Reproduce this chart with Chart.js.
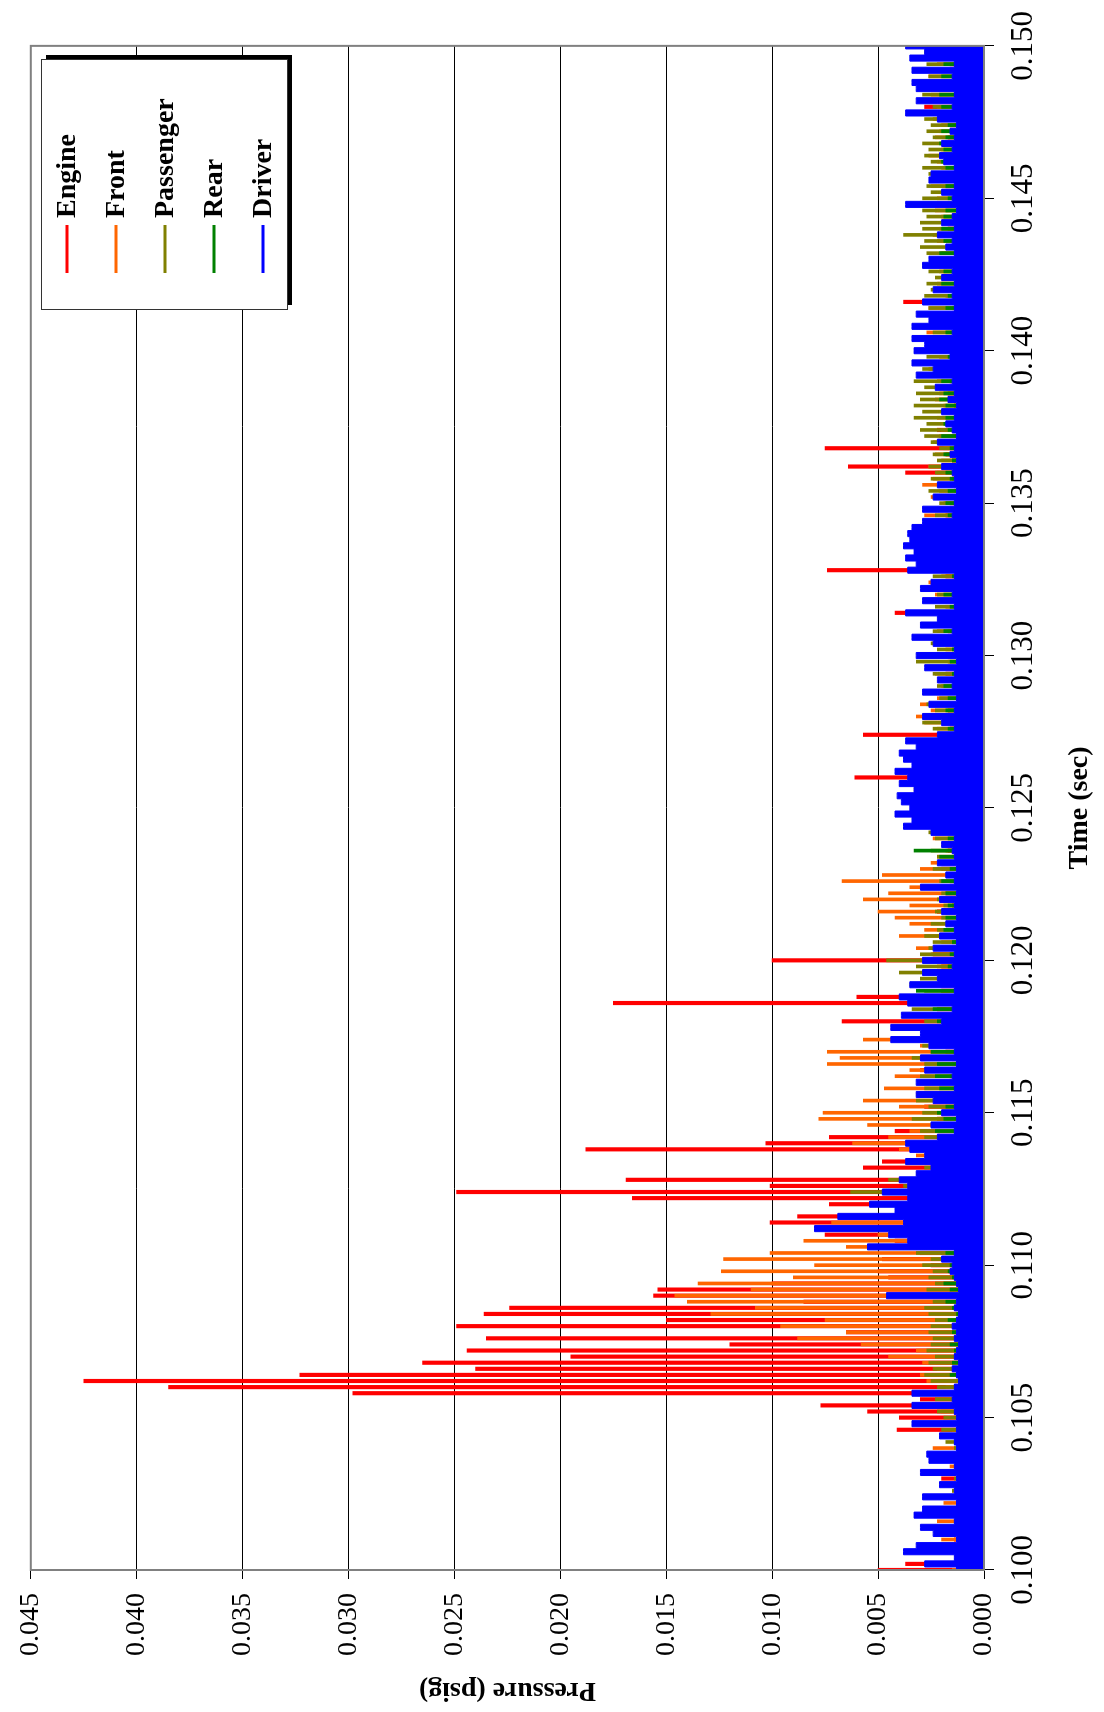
<!DOCTYPE html>
<html>
<head>
<meta charset="utf-8">
<script src="https://cdn.jsdelivr.net/npm/chart.js@4.4.1/dist/chart.umd.min.js"></script>
<style>
  html, body { margin: 0; padding: 0; background: #fff; overflow: hidden; }
  #wrap {
    position: absolute; left: 0; top: 0;
    width: 1712px; height: 1104px;
    transform-origin: 0 0;
    transform: translateY(1712px) rotate(-90deg);
  }
</style>
</head>
<body>
<div id="wrap"><canvas id="chart" width="1712" height="1104"></canvas></div>
<script>
// sample times (sec)
const times = [
  0.1000,0.1002,0.1004,0.1006,0.1008,0.1010,0.1012,0.1014,0.1016,0.1018,
  0.1020,0.1022,0.1024,0.1026,0.1028,0.1030,0.1032,0.1034,0.1036,0.1038,
  0.1040,0.1042,0.1044,0.1046,0.1048,0.1050,0.1052,0.1054,0.1056,0.1058,
  0.1060,0.1062,0.1064,0.1066,0.1068,0.1070,0.1072,0.1074,0.1076,0.1078,
  0.1080,0.1082,0.1084,0.1086,0.1088,0.1090,0.1092,0.1094,0.1096,0.1098,
  0.1100,0.1102,0.1104,0.1106,0.1108,0.1110,0.1112,0.1114,0.1116,0.1118,
  0.1120,0.1122,0.1124,0.1126,0.1128,0.1130,0.1132,0.1134,0.1136,0.1138,
  0.1140,0.1142,0.1144,0.1146,0.1148,0.1150,0.1152,0.1154,0.1156,0.1158,
  0.1160,0.1162,0.1164,0.1166,0.1168,0.1170,0.1172,0.1174,0.1176,0.1178,
  0.1180,0.1182,0.1184,0.1186,0.1188,0.1190,0.1192,0.1194,0.1196,0.1198,
  0.1200,0.1202,0.1204,0.1206,0.1208,0.1210,0.1212,0.1214,0.1216,0.1218,
  0.1220,0.1222,0.1224,0.1226,0.1228,0.1230,0.1232,0.1234,0.1236,0.1238,
  0.1240,0.1242,0.1244,0.1246,0.1248,0.1250,0.1252,0.1254,0.1256,0.1258,
  0.1260,0.1262,0.1264,0.1266,0.1268,0.1270,0.1272,0.1274,0.1276,0.1278,
  0.1280,0.1282,0.1284,0.1286,0.1288,0.1290,0.1292,0.1294,0.1296,0.1298,
  0.1300,0.1302,0.1304,0.1306,0.1308,0.1310,0.1312,0.1314,0.1316,0.1318,
  0.1320,0.1322,0.1324,0.1326,0.1328,0.1330,0.1332,0.1334,0.1336,0.1338,
  0.1340,0.1342,0.1344,0.1346,0.1348,0.1350,0.1352,0.1354,0.1356,0.1358,
  0.1360,0.1362,0.1364,0.1366,0.1368,0.1370,0.1372,0.1374,0.1376,0.1378,
  0.1380,0.1382,0.1384,0.1386,0.1388,0.1390,0.1392,0.1394,0.1396,0.1398,
  0.1400,0.1402,0.1404,0.1406,0.1408,0.1410,0.1412,0.1414,0.1416,0.1418,
  0.1420,0.1422,0.1424,0.1426,0.1428,0.1430,0.1432,0.1434,0.1436,0.1438,
  0.1440,0.1442,0.1444,0.1446,0.1448,0.1450,0.1452,0.1454,0.1456,0.1458,
  0.1460,0.1462,0.1464,0.1466,0.1468,0.1470,0.1472,0.1474,0.1476,0.1478,
  0.1480,0.1482,0.1484,0.1486,0.1488,0.1490,0.1492,0.1494,0.1496,0.1498,
  0.1500
];

// pressure (psig) per location
const engine = [
  0.0050,0.0037,0.0012,0.0037,0.0010,0.0014,0.0011,0.0009,0.0013,0.0010,
  0.0012,0.0009,0.0015,0.0011,0.0010,0.0020,0.0012,0.0010,0.0016,0.0011,
  0.0013,0.0011,0.0018,0.0041,0.0015,0.0040,0.0055,0.0077,0.0030,0.0298,
  0.0385,0.0425,0.0323,0.0240,0.0265,0.0195,0.0244,0.0120,0.0235,0.0065,
  0.0249,0.0150,0.0236,0.0224,0.0085,0.0156,0.0154,0.0100,0.0045,0.0050,
  0.0025,0.0048,0.0030,0.0022,0.0042,0.0075,0.0030,0.0101,0.0088,0.0037,
  0.0073,0.0166,0.0249,0.0101,0.0169,0.0025,0.0057,0.0048,0.0020,0.0188,
  0.0103,0.0073,0.0042,0.0018,0.0022,0.0015,0.0028,0.0016,0.0020,0.0014,
  0.0025,0.0016,0.0030,0.0015,0.0026,0.0018,0.0015,0.0034,0.0020,0.0016,
  0.0067,0.0018,0.0022,0.0175,0.0060,0.0020,0.0024,0.0015,0.0018,0.0020,
  0.0100,0.0024,0.0016,0.0015,0.0020,0.0014,0.0017,0.0013,0.0022,0.0015,
  0.0014,0.0018,0.0013,0.0016,0.0012,0.0020,0.0015,0.0013,0.0017,0.0014,
  0.0013,0.0016,0.0014,0.0018,0.0013,0.0015,0.0012,0.0016,0.0014,0.0015,
  0.0061,0.0014,0.0016,0.0013,0.0018,0.0015,0.0014,0.0057,0.0016,0.0013,
  0.0015,0.0017,0.0014,0.0013,0.0016,0.0015,0.0012,0.0018,0.0014,0.0013,
  0.0015,0.0014,0.0016,0.0013,0.0017,0.0015,0.0020,0.0042,0.0014,0.0016,
  0.0015,0.0013,0.0025,0.0018,0.0074,0.0016,0.0014,0.0030,0.0015,0.0013,
  0.0016,0.0014,0.0015,0.0018,0.0013,0.0016,0.0015,0.0014,0.0020,0.0015,
  0.0037,0.0064,0.0015,0.0018,0.0075,0.0014,0.0016,0.0022,0.0015,0.0013,
  0.0016,0.0014,0.0015,0.0017,0.0013,0.0016,0.0015,0.0014,0.0018,0.0015,
  0.0014,0.0016,0.0013,0.0015,0.0017,0.0014,0.0016,0.0015,0.0038,0.0014,
  0.0015,0.0013,0.0016,0.0014,0.0018,0.0015,0.0013,0.0016,0.0014,0.0015,
  0.0017,0.0014,0.0015,0.0013,0.0016,0.0014,0.0015,0.0018,0.0013,0.0016,
  0.0014,0.0015,0.0016,0.0013,0.0015,0.0017,0.0014,0.0016,0.0015,0.0013,
  0.0028,0.0015,0.0014,0.0016,0.0026,0.0015,0.0013,0.0016,0.0014,0.0015,
  0.0015
];
const front = [
  0.0015,0.0023,0.0012,0.0018,0.0010,0.0020,0.0013,0.0011,0.0022,0.0014,
  0.0012,0.0019,0.0010,0.0015,0.0021,0.0013,0.0011,0.0016,0.0012,0.0014,
  0.0024,0.0013,0.0018,0.0015,0.0026,0.0014,0.0020,0.0028,0.0016,0.0025,
  0.0018,0.0027,0.0030,0.0022,0.0029,0.0045,0.0032,0.0058,0.0088,0.0065,
  0.0096,0.0075,0.0129,0.0108,0.0140,0.0146,0.0110,0.0135,0.0090,0.0124,
  0.0080,0.0123,0.0101,0.0065,0.0085,0.0050,0.0080,0.0072,0.0035,0.0028,
  0.0036,0.0025,0.0030,0.0022,0.0038,0.0025,0.0020,0.0028,0.0032,0.0040,
  0.0062,0.0045,0.0035,0.0055,0.0078,0.0076,0.0040,0.0057,0.0032,0.0047,
  0.0030,0.0042,0.0035,0.0074,0.0068,0.0074,0.0030,0.0057,0.0025,0.0026,
  0.0020,0.0022,0.0018,0.0024,0.0016,0.0020,0.0025,0.0018,0.0028,0.0022,
  0.0019,0.0025,0.0032,0.0020,0.0040,0.0028,0.0035,0.0042,0.0050,0.0035,
  0.0057,0.0045,0.0035,0.0067,0.0048,0.0030,0.0025,0.0022,0.0018,0.0020,
  0.0024,0.0017,0.0022,0.0028,0.0020,0.0019,0.0025,0.0021,0.0033,0.0026,
  0.0020,0.0022,0.0018,0.0026,0.0029,0.0020,0.0024,0.0019,0.0022,0.0028,
  0.0032,0.0025,0.0030,0.0022,0.0028,0.0020,0.0018,0.0023,0.0020,0.0017,
  0.0020,0.0018,0.0024,0.0019,0.0022,0.0017,0.0020,0.0025,0.0018,0.0021,
  0.0023,0.0019,0.0026,0.0020,0.0024,0.0021,0.0018,0.0022,0.0020,0.0019,
  0.0026,0.0022,0.0020,0.0028,0.0023,0.0019,0.0025,0.0021,0.0029,0.0024,
  0.0022,0.0026,0.0020,0.0023,0.0019,0.0024,0.0021,0.0020,0.0018,0.0022,
  0.0020,0.0019,0.0023,0.0021,0.0018,0.0022,0.0020,0.0026,0.0024,0.0021,
  0.0023,0.0025,0.0020,0.0027,0.0024,0.0022,0.0019,0.0026,0.0020,0.0018,
  0.0020,0.0022,0.0017,0.0021,0.0019,0.0023,0.0020,0.0018,0.0022,0.0024,
  0.0021,0.0018,0.0020,0.0023,0.0019,0.0022,0.0020,0.0025,0.0021,0.0018,
  0.0020,0.0022,0.0026,0.0020,0.0019,0.0023,0.0021,0.0020,0.0024,0.0028,
  0.0022,0.0020,0.0025,0.0023,0.0020,0.0026,0.0028,0.0022,0.0030,0.0024,
  0.0020
];
const passenger = [
  0.0012,0.0018,0.0010,0.0015,0.0011,0.0013,0.0016,0.0010,0.0014,0.0012,
  0.0011,0.0013,0.0010,0.0015,0.0012,0.0014,0.0017,0.0011,0.0013,0.0015,
  0.0014,0.0018,0.0015,0.0020,0.0024,0.0019,0.0022,0.0025,0.0023,0.0026,
  0.0022,0.0025,0.0028,0.0024,0.0026,0.0023,0.0027,0.0025,0.0024,0.0026,
  0.0025,0.0023,0.0026,0.0028,0.0024,0.0025,0.0027,0.0023,0.0026,0.0024,
  0.0029,0.0025,0.0032,0.0028,0.0036,0.0030,0.0034,0.0026,0.0038,0.0031,
  0.0042,0.0035,0.0063,0.0038,0.0045,0.0032,0.0028,0.0035,0.0026,0.0030,
  0.0034,0.0028,0.0030,0.0025,0.0034,0.0029,0.0026,0.0032,0.0024,0.0028,
  0.0026,0.0030,0.0024,0.0028,0.0034,0.0025,0.0029,0.0023,0.0027,0.0025,
  0.0028,0.0030,0.0034,0.0026,0.0032,0.0028,0.0035,0.0030,0.0040,0.0032,
  0.0046,0.0030,0.0026,0.0024,0.0028,0.0022,0.0025,0.0020,0.0023,0.0019,
  0.0022,0.0020,0.0026,0.0021,0.0018,0.0024,0.0020,0.0022,0.0025,0.0019,
  0.0023,0.0026,0.0020,0.0024,0.0027,0.0021,0.0025,0.0022,0.0028,0.0020,
  0.0024,0.0021,0.0026,0.0023,0.0020,0.0025,0.0028,0.0022,0.0024,0.0029,
  0.0026,0.0023,0.0027,0.0021,0.0025,0.0022,0.0020,0.0024,0.0026,0.0032,
  0.0028,0.0022,0.0025,0.0020,0.0024,0.0026,0.0021,0.0028,0.0023,0.0025,
  0.0022,0.0026,0.0020,0.0024,0.0027,0.0021,0.0023,0.0025,0.0020,0.0024,
  0.0026,0.0022,0.0025,0.0023,0.0027,0.0021,0.0024,0.0026,0.0022,0.0025,
  0.0023,0.0026,0.0022,0.0024,0.0021,0.0025,0.0028,0.0030,0.0027,0.0033,
  0.0029,0.0033,0.0030,0.0032,0.0028,0.0033,0.0031,0.0029,0.0032,0.0027,
  0.0030,0.0026,0.0028,0.0024,0.0027,0.0025,0.0023,0.0026,0.0024,0.0028,
  0.0025,0.0027,0.0023,0.0026,0.0029,0.0024,0.0027,0.0030,0.0028,0.0038,
  0.0029,0.0030,0.0027,0.0029,0.0026,0.0029,0.0025,0.0027,0.0024,0.0026,
  0.0029,0.0025,0.0028,0.0026,0.0029,0.0024,0.0027,0.0025,0.0028,0.0026,
  0.0024,0.0027,0.0029,0.0025,0.0029,0.0026,0.0023,0.0027,0.0025,0.0028,
  0.0030
];
const rear = [
  0.0010,0.0012,0.0009,0.0011,0.0013,0.0010,0.0012,0.0011,0.0009,0.0012,
  0.0011,0.0010,0.0013,0.0012,0.0010,0.0011,0.0014,0.0012,0.0010,0.0011,
  0.0013,0.0011,0.0012,0.0010,0.0014,0.0012,0.0011,0.0013,0.0015,0.0012,
  0.0014,0.0012,0.0016,0.0013,0.0015,0.0012,0.0014,0.0016,0.0013,0.0015,
  0.0014,0.0017,0.0013,0.0015,0.0018,0.0014,0.0016,0.0019,0.0015,0.0017,
  0.0016,0.0020,0.0018,0.0022,0.0017,0.0021,0.0019,0.0024,0.0018,0.0022,
  0.0020,0.0023,0.0019,0.0025,0.0021,0.0018,0.0022,0.0020,0.0026,0.0019,
  0.0021,0.0018,0.0023,0.0020,0.0019,0.0022,0.0018,0.0020,0.0024,0.0021,
  0.0019,0.0023,0.0020,0.0022,0.0018,0.0025,0.0021,0.0019,0.0023,0.0020,
  0.0022,0.0019,0.0024,0.0021,0.0020,0.0032,0.0022,0.0018,0.0020,0.0017,
  0.0019,0.0016,0.0018,0.0015,0.0017,0.0019,0.0016,0.0018,0.0015,0.0017,
  0.0016,0.0018,0.0015,0.0020,0.0017,0.0016,0.0019,0.0021,0.0033,0.0018,
  0.0017,0.0019,0.0016,0.0018,0.0020,0.0017,0.0019,0.0016,0.0018,0.0017,
  0.0019,0.0016,0.0018,0.0017,0.0020,0.0016,0.0018,0.0015,0.0017,0.0019,
  0.0016,0.0018,0.0015,0.0017,0.0016,0.0019,0.0017,0.0015,0.0018,0.0016,
  0.0017,0.0015,0.0018,0.0016,0.0019,0.0017,0.0015,0.0018,0.0016,0.0017,
  0.0019,0.0016,0.0018,0.0015,0.0017,0.0019,0.0016,0.0018,0.0017,0.0015,
  0.0018,0.0016,0.0019,0.0017,0.0015,0.0018,0.0016,0.0017,0.0019,0.0016,
  0.0018,0.0017,0.0015,0.0019,0.0016,0.0018,0.0020,0.0017,0.0019,0.0018,
  0.0020,0.0018,0.0021,0.0019,0.0017,0.0020,0.0018,0.0022,0.0019,0.0017,
  0.0019,0.0017,0.0020,0.0018,0.0016,0.0019,0.0017,0.0018,0.0020,0.0017,
  0.0018,0.0020,0.0017,0.0019,0.0016,0.0018,0.0021,0.0017,0.0019,0.0018,
  0.0020,0.0017,0.0019,0.0018,0.0021,0.0017,0.0020,0.0018,0.0019,0.0022,
  0.0018,0.0020,0.0017,0.0019,0.0021,0.0018,0.0020,0.0017,0.0019,0.0018,
  0.0020,0.0018,0.0021,0.0019,0.0017,0.0020,0.0018,0.0019,0.0021,0.0018,
  0.0019
];
const driver = [
  0.0013,0.0028,0.0014,0.0038,0.0032,0.0013,0.0024,0.0030,0.0014,0.0033,
  0.0029,0.0013,0.0029,0.0014,0.0021,0.0013,0.0030,0.0014,0.0026,0.0027,
  0.0013,0.0014,0.0021,0.0013,0.0034,0.0013,0.0014,0.0034,0.0015,0.0034,
  0.0014,0.0012,0.0013,0.0015,0.0012,0.0014,0.0013,0.0012,0.0014,0.0013,
  0.0015,0.0013,0.0012,0.0014,0.0013,0.0046,0.0012,0.0013,0.0014,0.0016,
  0.0015,0.0020,0.0014,0.0055,0.0036,0.0045,0.0080,0.0038,0.0069,0.0042,
  0.0054,0.0036,0.0048,0.0036,0.0040,0.0032,0.0025,0.0037,0.0028,0.0035,
  0.0037,0.0022,0.0014,0.0025,0.0013,0.0020,0.0014,0.0024,0.0032,0.0014,
  0.0032,0.0015,0.0028,0.0013,0.0030,0.0014,0.0026,0.0044,0.0030,0.0044,
  0.0020,0.0039,0.0015,0.0036,0.0040,0.0014,0.0035,0.0022,0.0029,0.0015,
  0.0029,0.0014,0.0024,0.0013,0.0021,0.0014,0.0018,0.0013,0.0020,0.0014,
  0.0021,0.0013,0.0030,0.0014,0.0018,0.0013,0.0022,0.0014,0.0015,0.0020,
  0.0014,0.0025,0.0038,0.0034,0.0042,0.0035,0.0039,0.0041,0.0033,0.0040,
  0.0036,0.0042,0.0034,0.0038,0.0040,0.0032,0.0037,0.0022,0.0014,0.0020,
  0.0029,0.0014,0.0026,0.0013,0.0029,0.0015,0.0022,0.0014,0.0028,0.0013,
  0.0032,0.0014,0.0024,0.0034,0.0015,0.0030,0.0022,0.0037,0.0014,0.0029,
  0.0015,0.0030,0.0025,0.0014,0.0036,0.0032,0.0037,0.0033,0.0038,0.0035,
  0.0036,0.0034,0.0029,0.0015,0.0029,0.0014,0.0024,0.0013,0.0022,0.0014,
  0.0015,0.0020,0.0013,0.0016,0.0014,0.0022,0.0013,0.0015,0.0018,0.0014,
  0.0020,0.0013,0.0017,0.0014,0.0023,0.0015,0.0032,0.0024,0.0034,0.0016,
  0.0033,0.0028,0.0034,0.0015,0.0034,0.0026,0.0032,0.0014,0.0029,0.0015,
  0.0024,0.0014,0.0020,0.0015,0.0029,0.0026,0.0014,0.0018,0.0015,0.0022,
  0.0014,0.0020,0.0015,0.0013,0.0037,0.0015,0.0020,0.0014,0.0026,0.0025,
  0.0014,0.0019,0.0021,0.0015,0.0020,0.0014,0.0016,0.0013,0.0022,0.0037,
  0.0015,0.0032,0.0014,0.0032,0.0034,0.0015,0.0034,0.0014,0.0035,0.0028,
  0.0037
];

const seriesNames = ["Engine", "Front", "Passenger", "Rear", "Driver"];
const seriesColors = ["#FF0000", "#FF6600", "#808000", "#008000", "#0000FF"];
const seriesValues = [engine, front, passenger, rear, driver];

const timeTicks = [0.100, 0.105, 0.110, 0.115, 0.120, 0.125, 0.130, 0.135, 0.140, 0.145, 0.150];
const pressureTicks = [0.000, 0.005, 0.010, 0.015, 0.020, 0.025, 0.030, 0.035, 0.040, 0.045];

const serif = "'Liberation Serif', 'Times New Roman', serif";

// legend drawn inside the plot, Excel style with a drop shadow
const boxLegend = {
  id: "boxLegend",
  afterDraw(chart) {
    const ctx = chart.ctx;
    const x = 1402, y = 41, w = 250, h = 246;
    ctx.save();
    ctx.fillStyle = "#000";
    ctx.fillRect(x + 5, y + 5, w, h);
    ctx.fillStyle = "#fff";
    ctx.fillRect(x, y, w, h);
    ctx.strokeStyle = "#333";
    ctx.lineWidth = 1;
    ctx.strokeRect(x + 0.5, y + 0.5, w, h);
    chart.data.datasets.forEach((ds, k) => {
      const rowY = 67 + k * 49;
      ctx.strokeStyle = seriesColors[k];
      ctx.lineWidth = 3;
      ctx.beginPath();
      ctx.moveTo(1439, rowY);
      ctx.lineTo(1487, rowY);
      ctx.stroke();
      ctx.fillStyle = "#000";
      ctx.font = "bold 28px " + serif;
      ctx.textAlign = "left";
      ctx.textBaseline = "middle";
      ctx.fillText(ds.label, 1494, rowY + 1);
    });
    ctx.restore();
  }
};

// grey plot frame
const plotFrame = {
  id: "plotFrame",
  afterDatasetsDraw(chart) {
    const { left, top, right, bottom } = chart.chartArea;
    const ctx = chart.ctx;
    ctx.save();
    ctx.strokeStyle = "#808080";
    ctx.lineWidth = 2;
    ctx.strokeRect(left, top, right - left, bottom - top);
    ctx.restore();
  }
};

// spikes of the first four traces as thin sample bars, Driver as a filled trace on top
const datasets = seriesNames.map((name, k) => {
  const points = times.map((t, i) => ({ x: t, y: seriesValues[k][i] }));
  if (k === 4) {
    return {
      type: "line",
      label: name,
      data: points,
      borderColor: seriesColors[k],
      backgroundColor: seriesColors[k],
      borderWidth: 1,
      fill: "origin",
      stepped: "middle",
      pointRadius: 0,
      order: 1,
    };
  }
  return {
    type: "bar",
    label: name,
    data: points,
    backgroundColor: seriesColors[k],
    borderWidth: 0,
    barThickness: k === 0 ? 3.5 : 3,
    grouped: false,
    order: 5 - k + 1,
  };
});

new Chart(document.getElementById("chart"), {
  type: "line",
  data: { datasets },
  options: {
    responsive: false,
    animation: false,
    devicePixelRatio: 1,
    layout: { padding: { top: 23, right: 40, left: 0, bottom: 0 } },
    plugins: { legend: { display: false }, tooltip: { enabled: false } },
    scales: {
      x: {
        type: "linear",
        min: 0.1,
        max: 0.15,
        offset: false,
        afterFit: (s) => { s.height = 120; },
        afterBuildTicks: (s) => { s.ticks = timeTicks.map((v) => ({ value: v })); },
        ticks: {
          color: "#000",
          padding: 11,
          maxRotation: 0,
          font: { family: serif, size: 31 },
          callback: (v) => Number(v).toFixed(3),
        },
        grid: { drawOnChartArea: false, drawTicks: true, tickLength: 10, color: "#000", offset: false },
        border: { color: "#808080", width: 2 },
        title: {
          display: true,
          text: "Time (sec)",
          color: "#000",
          font: { family: serif, size: 28, weight: "bold" },
          padding: { top: 0, bottom: 7 },
        },
      },
      y: {
        type: "linear",
        min: 0,
        max: 0.045,
        afterFit: (s) => { s.width = 142; },
        afterBuildTicks: (s) => { s.ticks = pressureTicks.map((v) => ({ value: v })); },
        ticks: {
          color: "#000",
          padding: 14,
          font: { family: serif, size: 28 },
          callback: (v) => Number(v).toFixed(3),
        },
        grid: { color: "#000", lineWidth: 1, tickLength: 9 },
        border: { color: "#808080", width: 2 },
        title: {
          display: true,
          text: "Pressure (psig)",
          color: "#000",
          font: { family: serif, size: 28, weight: "bold" },
          padding: { top: 5, bottom: 0 },
        },
      },
    },
  },
  plugins: [boxLegend, plotFrame],
});
</script>
</body>
</html>
